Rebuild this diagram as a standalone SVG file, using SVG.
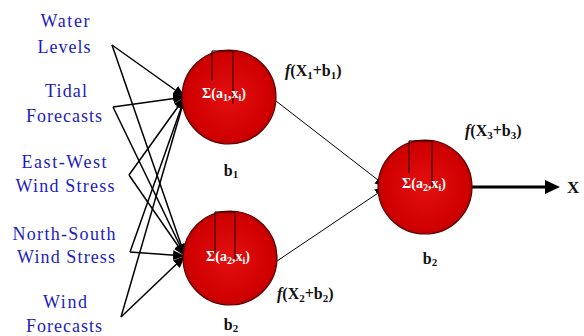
<svg xmlns="http://www.w3.org/2000/svg" width="584" height="336" viewBox="0 0 584 336">
<style>
.lbl{font-family:"Liberation Serif","Times New Roman",serif;font-size:18px;fill:#1c1cc0;text-anchor:middle}
.sum{font-family:"Liberation Serif","Times New Roman",serif;font-size:14px;font-weight:bold;fill:#ffffff;text-anchor:middle}
.fx{font-family:"Liberation Serif","Times New Roman",serif;font-size:16px;font-weight:bold;fill:#111111}
.b{font-family:"Liberation Serif","Times New Roman",serif;font-size:16px;font-weight:bold;fill:#111111;text-anchor:middle}
.neuron{fill:url(#red);stroke:#5a0000;stroke-width:1.2}
.tick{stroke:#3a0000;stroke-width:1.2;fill:none}
.in{stroke:#000;stroke-width:1.5;fill:none;marker-end:url(#ah)}
.hid{stroke:#000;stroke-width:1;fill:none;marker-end:url(#ah)}
</style>
<defs>
<radialGradient id="red" cx="0.5" cy="0.5" r="0.55">
<stop offset="0" stop-color="#e31010"/>
<stop offset="0.8" stop-color="#d00000"/>
<stop offset="1" stop-color="#b00000"/>
</radialGradient>
<marker id="ah" markerUnits="userSpaceOnUse" markerWidth="12" markerHeight="10" refX="12" refY="5" orient="auto">
<path d="M0,0 L12,5 L0,10 z" fill="#000"/>
</marker>
</defs>
<rect width="584" height="336" fill="#ffffff"/>
<g id="inputs">
<text class="lbl" x="65" y="27" textLength="49" lengthAdjust="spacing">Water</text>
<text class="lbl" x="64" y="53" textLength="53" lengthAdjust="spacing">Levels</text>
<text class="lbl" x="66" y="97" textLength="42" lengthAdjust="spacing">Tidal</text>
<text class="lbl" x="64" y="122" textLength="76" lengthAdjust="spacing">Forecasts</text>
<text class="lbl" x="64" y="168" textLength="85" lengthAdjust="spacing">East-West</text>
<text class="lbl" x="65" y="192" textLength="99" lengthAdjust="spacing">Wind Stress</text>
<text class="lbl" x="64" y="240" textLength="103" lengthAdjust="spacing">North-South</text>
<text class="lbl" x="66" y="263" textLength="98" lengthAdjust="spacing">Wind Stress</text>
<text class="lbl" x="65" y="308" textLength="44" lengthAdjust="spacing">Wind</text>
<text class="lbl" x="64" y="332" textLength="76" lengthAdjust="spacing">Forecasts</text>
</g>
<g id="connectors">
<line class="in" x1="112" y1="45" x2="185" y2="97"/>
<line class="in" x1="113" y1="107" x2="185" y2="97"/>
<line class="in" x1="129" y1="175" x2="185" y2="97"/>
<line class="in" x1="130" y1="252" x2="185" y2="97"/>
<line class="in" x1="121" y1="317" x2="185" y2="97"/>
<line class="in" x1="112" y1="45" x2="185" y2="256"/>
<line class="in" x1="113" y1="107" x2="185" y2="256"/>
<line class="in" x1="129" y1="175" x2="185" y2="256"/>
<line class="in" x1="130" y1="252" x2="185" y2="256"/>
<line class="in" x1="121" y1="317" x2="185" y2="256"/>
<line class="hid" x1="276" y1="101" x2="387" y2="187"/>
<line class="hid" x1="277" y1="261" x2="387" y2="187"/>
<line x1="472" y1="187" x2="548" y2="187" stroke="#000" stroke-width="3"/>
<path d="M545,180 L560,187 L545,194 z" fill="#000"/>
</g>
<g id="neuron1">
<circle class="neuron" cx="229" cy="97" r="47"/>
<line class="tick" x1="212" y1="51" x2="212" y2="81"/>
<line class="tick" x1="233" y1="51" x2="233" y2="104"/>
<line class="tick" x1="212" y1="51" x2="233" y2="51"/>
<text class="sum" x="224" y="98">Σ(a<tspan font-size="10" dy="3">1</tspan><tspan dy="-3">,x</tspan><tspan font-size="10" dy="3">i</tspan><tspan dy="-3">)</tspan></text>
<text class="fx" x="285" y="76"><tspan font-style="italic">f</tspan>(X<tspan font-size="11" dy="3">1</tspan><tspan dy="-3">+b</tspan><tspan font-size="11" dy="3">1</tspan><tspan dy="-3">)</tspan></text>
<text class="b" x="231" y="176">b<tspan font-size="11" dy="2">1</tspan></text>
</g>
<g id="neuron2">
<circle class="neuron" cx="230" cy="258" r="47"/>
<line class="tick" x1="215" y1="212" x2="215" y2="253"/>
<line class="tick" x1="235" y1="212" x2="235" y2="260"/>
<line class="tick" x1="215" y1="212" x2="235" y2="212"/>
<text class="sum" x="228" y="261">Σ(a<tspan font-size="10" dy="3">2</tspan><tspan dy="-3">,x</tspan><tspan font-size="10" dy="3">i</tspan><tspan dy="-3">)</tspan></text>
<text class="fx" x="277" y="299"><tspan font-style="italic">f</tspan>(X<tspan font-size="11" dy="3">2</tspan><tspan dy="-3">+b</tspan><tspan font-size="11" dy="3">2</tspan><tspan dy="-3">)</tspan></text>
<text class="b" x="231" y="330">b<tspan font-size="11" dy="2">2</tspan></text>
</g>
<g id="neuron3">
<circle class="neuron" cx="425" cy="187" r="47"/>
<line class="tick" x1="409" y1="141" x2="409" y2="173"/>
<line class="tick" x1="432" y1="141" x2="432" y2="187"/>
<line class="tick" x1="409" y1="141" x2="432" y2="141"/>
<text class="sum" x="424" y="188">Σ(a<tspan font-size="10" dy="3">2</tspan><tspan dy="-3">,x</tspan><tspan font-size="10" dy="3">i</tspan><tspan dy="-3">)</tspan></text>
<text class="fx" x="465" y="136"><tspan font-style="italic">f</tspan>(X<tspan font-size="11" dy="3">3</tspan><tspan dy="-3">+b</tspan><tspan font-size="11" dy="3">3</tspan><tspan dy="-3">)</tspan></text>
<text class="b" x="430" y="264">b<tspan font-size="11" dy="2">2</tspan></text>
</g>
<g id="output">
<text x="567" y="193" font-family="Liberation Serif, Times New Roman, serif" font-size="17" font-weight="bold" fill="#111">X</text>
</g>
</svg>
